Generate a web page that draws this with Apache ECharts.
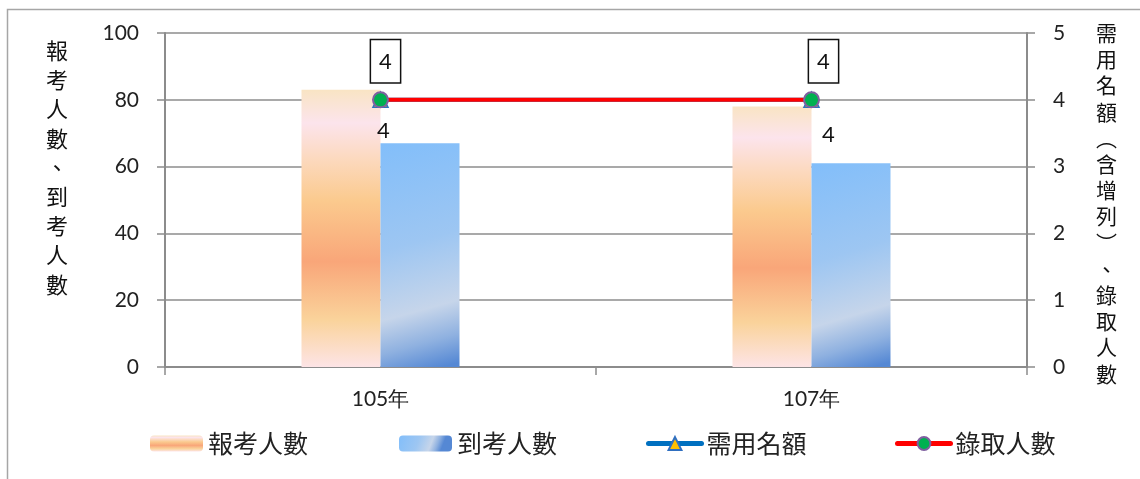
<!DOCTYPE html>
<html>
<head>
<meta charset="utf-8">
<script src="https://cdn.jsdelivr.net/npm/echarts@6/dist/echarts.min.js"></script>
<style>
html,body{margin:0;padding:0;background:#fff;}
#c{width:1140px;height:479px;}
</style>
</head>
<body>
<div id="c"></div>
<script>
// ---- data ----
const categories = ['105年', '107年'];
const registered = [83, 78];      // 報考人數
const attended = [67, 61];        // 到考人數
const required = [4, 4];          // 需用名額
const admitted = [4, 4];          // 錄取人數
const seriesNames = ['報考人數', '到考人數', '需用名額', '錄取人數'];
const leftTitle = '報考人數、到考人數';
const rightTitle = '需用名額︵含增列︶、錄取人數';
const leftTicks = [0, 20, 40, 60, 80, 100];
const rightTicks = [0, 1, 2, 3, 4, 5];

// ---- styling ----
const CJK = '"Noto Sans CJK TC", "Noto Sans CJK SC", sans-serif';
const NUM = 'Lato, "Noto Sans", sans-serif';
const gridColor = '#8c8c8c';

const orangeGrad = new echarts.graphic.LinearGradient(0, 0, 0, 1, [
  { offset: 0, color: '#F9E4C4' },
  { offset: 0.12, color: '#FCE4EC' },
  { offset: 0.25, color: '#FCD9BE' },
  { offset: 0.40, color: '#FBCA8E' },
  { offset: 0.62, color: '#F9A679' },
  { offset: 0.83, color: '#FAD39B' },
  { offset: 1, color: '#FDE4E6' }
]);
const blueGrad = new echarts.graphic.LinearGradient(0, 0, 0.78, 1, [
  { offset: 0, color: '#82BEFA' },
  { offset: 0.45, color: '#9DC6F2' },
  { offset: 0.74, color: '#C6D5EA' },
  { offset: 0.88, color: '#8FB1E0' },
  { offset: 1, color: '#5588D4' }
]);

const boxOffsets = [[5, 0], [12, 0]];
const belowOffsets = [[3, 0], [17, 4]];

const chart = echarts.init(document.getElementById('c'), null, { renderer: 'canvas' });

function legendAt(name, left, isLine) {
  const l = {
    data: [name],
    left: left,
    top: 426,
    itemWidth: 53,
    itemHeight: 16,
    itemGap: 0,
    textStyle: { fontFamily: CJK, fontSize: 25, color: '#222', padding: [0, 0, 0, 0] },
    selectedMode: false
  };
  if (isLine) {
    l.lineStyle = { width: 5, cap: 'round' };
  }
  return l;
}

const option = {
  backgroundColor: '#fff',
  animation: false,
  graphic: [
    {
      type: 'rect', left: 5, top: 7, z: -10,
      shape: { width: 1200, height: 520 },
      style: { fill: 'none', stroke: '#a6a6a6', lineWidth: 1.5 }
    },
    {
      type: 'text', left: 46, top: 36,
      style: {
        text: leftTitle.split('').join('\n'),
        font: '22px ' + CJK, lineHeight: 29.2, fill: '#111', align: 'center'
      }
    },
    {
      type: 'text', left: 1096, top: 20,
      style: {
        text: rightTitle.split('').join('\n'),
        font: '21px ' + CJK, lineHeight: 26.2, fill: '#111', align: 'center'
      }
    }
  ],
  legend: [
    legendAt(seriesNames[0], 145, false),
    legendAt(seriesNames[1], 394, false),
    legendAt(seriesNames[2], 641, true),
    legendAt(seriesNames[3], 890, true)
  ],
  grid: { left: 165, right: 113, top: 33, bottom: 112, containLabel: false },
  xAxis: {
    type: 'category',
    data: categories,
    boundaryGap: true,
    axisLine: { lineStyle: { color: gridColor, width: 2 } },
    axisTick: { show: true, length: 8, interval: 0, lineStyle: { color: gridColor, width: 1.5 } },
    axisLabel: { fontFamily: NUM, fontSize: 21, color: '#222', margin: 22 }
  },
  yAxis: [
    {
      type: 'value', min: leftTicks[0], max: leftTicks[leftTicks.length - 1], interval: 20,
      axisLine: { show: true, lineStyle: { color: gridColor, width: 2 } },
      axisTick: { show: true, length: 8, lineStyle: { color: gridColor, width: 1.5 } },
      splitLine: { show: true, lineStyle: { color: gridColor, width: 1.5 } },
      axisLabel: { fontFamily: NUM, fontSize: 21, color: '#222', margin: 26 }
    },
    {
      type: 'value', min: rightTicks[0], max: rightTicks[rightTicks.length - 1], interval: 1,
      position: 'right',
      axisLine: { show: true, lineStyle: { color: gridColor, width: 2 } },
      axisTick: { show: true, length: 8, lineStyle: { color: gridColor, width: 1.5 } },
      splitLine: { show: false },
      axisLabel: { fontFamily: NUM, fontSize: 21, color: '#222', margin: 26 }
    }
  ],
  series: [
    {
      name: seriesNames[0], type: 'bar', data: registered,
      barWidth: 79, barGap: '0%',
      itemStyle: { color: orangeGrad }
    },
    {
      name: seriesNames[1], type: 'bar', data: attended,
      barWidth: 79, barGap: '0%',
      itemStyle: { color: blueGrad }
    },
    {
      name: seriesNames[2], type: 'line', yAxisIndex: 1, z: 3,
      data: required.map((v, i) => ({
        value: v,
        label: { offset: belowOffsets[i] }
      })),
      symbol: 'triangle', symbolSize: 15,
      lineStyle: { color: '#0070C0', width: 4 },
      itemStyle: { color: '#FFC000', borderColor: '#2F6FC0', borderWidth: 1.5 },
      label: {
        show: true, position: 'bottom', distance: 12,
        fontFamily: NUM, fontSize: 22, color: '#111'
      }
    },
    {
      name: seriesNames[3], type: 'line', yAxisIndex: 1, z: 4,
      data: admitted.map((v, i) => ({
        value: v,
        label: { offset: boxOffsets[i] }
      })),
      symbol: 'circle', symbolSize: 15,
      lineStyle: { color: '#FF0000', width: 4 },
      itemStyle: { color: '#00B050', borderColor: '#7F60A0', borderWidth: 2 },
      label: {
        show: true, position: 'top', distance: 9,
        fontFamily: NUM, fontSize: 22, color: '#111',
        backgroundColor: '#fff', borderColor: '#111', borderWidth: 1.5,
        padding: [11, 8, 9, 8]
      }
    }
  ]
};
chart.setOption(option);
</script>
</body>
</html>
